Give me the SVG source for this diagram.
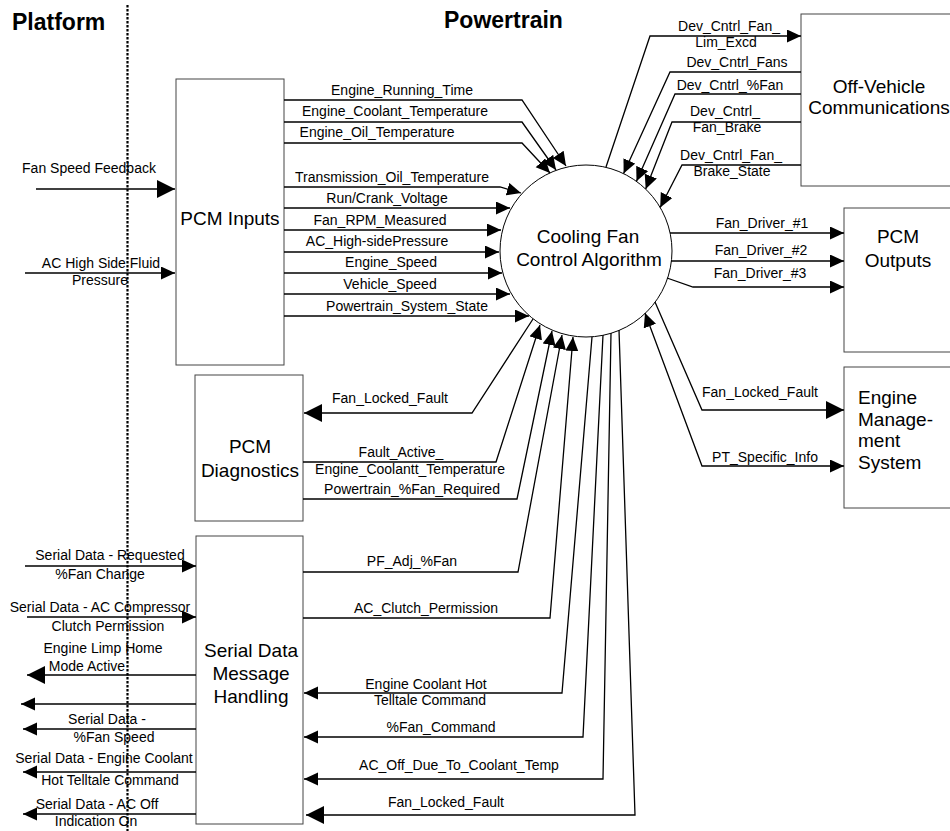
<svg xmlns="http://www.w3.org/2000/svg" width="950" height="831" viewBox="0 0 950 831">
  <style>
    text { font-family: "Liberation Sans", Arial, sans-serif; fill: #000; }
    .hdr { font-size: 23px; font-weight: bold; }
    .ttl { font-size: 19px; text-anchor: middle; }
    .ttlL { font-size: 19px; }
    .lbl { font-size: 14px; text-anchor: middle; }
    .box { fill: #fff; stroke: #444; stroke-width: 1; }
    .ln { fill: none; stroke: #000; stroke-width: 1.3; }
    .a { marker-end: url(#ah); }
    .aL { marker-end: url(#ahL); }
  </style>
  <defs>
    <marker id="ah" markerUnits="userSpaceOnUse" markerWidth="15" markerHeight="14" refX="14" refY="6.5" orient="auto-start-reverse">
      <path d="M0,0 L14,6.5 L0,13 z" fill="#000"/>
    </marker>
    <marker id="ahL" markerUnits="userSpaceOnUse" markerWidth="19" markerHeight="19" refX="18" refY="9" orient="auto-start-reverse">
      <path d="M0,0 L18,9 L0,18 z" fill="#000"/>
    </marker>
  </defs>

  <rect width="950" height="831" fill="#fff"/>

  <!-- domain headers and boundary -->
  <text class="hdr" x="12" y="30">Platform</text>
  <text class="hdr" x="444" y="28">Powertrain</text>
  <line x1="127.5" y1="5" x2="127.5" y2="831" stroke="#000" stroke-width="2.2" stroke-dasharray="2.5,1.5"/>

  <!-- nodes -->
  <g id="pcm-inputs">
    <rect class="box" x="176" y="79" width="108" height="286"/>
    <text class="ttl" x="230" y="225">PCM Inputs</text>
  </g>
  <g id="pcm-diagnostics">
    <rect class="box" x="195" y="375" width="108" height="146"/>
    <text class="ttl" x="250" y="453">PCM</text>
    <text class="ttl" x="250" y="477">Diagnostics</text>
  </g>
  <g id="serial-data">
    <rect class="box" x="196" y="536" width="107" height="288"/>
    <text class="ttl" x="251" y="657">Serial Data</text>
    <text class="ttl" x="251" y="680">Message</text>
    <text class="ttl" x="251" y="703">Handling</text>
  </g>
  <g id="cooling-fan-algorithm">
    <circle cx="586" cy="251" r="86" fill="#fff" stroke="#000" stroke-width="1"/>
    <text class="ttl" x="588" y="243">Cooling Fan</text>
    <text class="ttl" x="589" y="266">Control Algorithm</text>
  </g>
  <g id="off-vehicle">
    <rect class="box" x="801" y="14" width="170" height="172"/>
    <text class="ttl" x="879" y="93">Off-Vehicle</text>
    <text class="ttl" x="879" y="114">Communications</text>
  </g>
  <g id="pcm-outputs">
    <rect class="box" x="844" y="208" width="127" height="144"/>
    <text class="ttl" x="898" y="243">PCM</text>
    <text class="ttl" x="898" y="267">Outputs</text>
  </g>
  <g id="engine-management">
    <rect class="box" x="844" y="367" width="127" height="141"/>
    <text class="ttlL" x="858" y="404">Engine</text>
    <text class="ttlL" x="858" y="426">Manage-</text>
    <text class="ttlL" x="858" y="447">ment</text>
    <text class="ttlL" x="858" y="469">System</text>
  </g>

  <!-- connectors -->
  <g id="connectors">
    <!-- platform inputs to PCM Inputs -->
    <polyline class="ln aL" points="36,189 175,189"/>
    <polyline class="ln a" points="25,273 175,273"/>

    <!-- PCM Inputs to algorithm -->
    <polyline class="ln a" points="284,100 522,100 566,166"/>
    <polyline class="ln a" points="284,122 522,122 556,170"/>
    <polyline class="ln a" points="284,143 522,143 550,173"/>
    <polyline class="ln a" points="284,187 500,187 521,193"/>
    <polyline class="ln a" points="284,208 510,208"/>
    <polyline class="ln a" points="284,230 501,230"/>
    <polyline class="ln a" points="284,252 499,252"/>
    <polyline class="ln a" points="284,273 502,273"/>
    <polyline class="ln a" points="284,294 510,294"/>
    <polyline class="ln a" points="284,316 529,316"/>

    <!-- diagnostics -->
    <polyline class="ln aL" points="533,319 472,413 304,413"/>
    <polyline class="ln a" points="303,462 496,462 540,325"/>
    <polyline class="ln a" points="303,499 517,499 552,331"/>

    <!-- serial data message handling, to and from algorithm -->
    <polyline class="ln a" points="303,572 518,572 562,335"/>
    <polyline class="ln a" points="303,618 550,618 573,337"/>
    <polyline class="ln a" points="592,337 562,693 304,693"/>
    <polyline class="ln a" points="603,335 583,737 304,737"/>
    <polyline class="ln a" points="611,333 603,779 304,779"/>
    <polyline class="ln aL" points="619,330 635,815 306,815"/>

    <!-- platform serial bus -->
    <polyline class="ln a" points="25,566 196,566"/>
    <polyline class="ln a" points="27,617 196,617"/>
    <polyline class="ln aL" points="196,675 27,675"/>
    <polyline class="ln a" points="196,704 21,704"/>
    <polyline class="ln a" points="196,729 23,729"/>
    <polyline class="ln a" points="196,772 23,772"/>
    <polyline class="ln a" points="196,814 23,814"/>

    <!-- off-vehicle communications -->
    <polyline class="ln a" points="606,167 650,36 801,36"/>
    <polyline class="ln a" points="801,72 670,72 623.6,173.6"/>
    <polyline class="ln a" points="801,94 675,94 636.5,181.3"/>
    <polyline class="ln a" points="801,122 672,122 645.7,189.1"/>
    <polyline class="ln a" points="801,165 682,165 660.2,207.5"/>

    <!-- PCM outputs -->
    <polyline class="ln a" points="670,233 844,233"/>
    <polyline class="ln a" points="671,261 844,261"/>
    <polyline class="ln a" points="667,278 693,287 844,287"/>

    <!-- engine management system -->
    <polyline class="ln aL" points="655,302 702,410 844,410"/>
    <polyline class="ln a" style="marker-start:url(#ah)" points="645,313 702,466 844,466"/>

    <!-- labels -->
    <text class="lbl" x="89" y="173">Fan Speed Feedback</text>
    <text class="lbl" x="101" y="268">AC High Side Fluid</text>
    <text class="lbl" x="100" y="285">Pressure</text>

    <text class="lbl" x="402" y="95">Engine_Running_Time</text>
    <text class="lbl" x="395" y="116">Engine_Coolant_Temperature</text>
    <text class="lbl" x="377" y="137">Engine_Oil_Temperature</text>
    <text class="lbl" x="392" y="182">Transmission_Oil_Temperature</text>
    <text class="lbl" x="387" y="203">Run/Crank_Voltage</text>
    <text class="lbl" x="380" y="225">Fan_RPM_Measured</text>
    <text class="lbl" x="377" y="246">AC_High-sidePressure</text>
    <text class="lbl" x="391" y="267">Engine_Speed</text>
    <text class="lbl" x="390" y="289">Vehicle_Speed</text>
    <text class="lbl" x="407" y="311">Powertrain_System_State</text>

    <text class="lbl" x="390" y="403">Fan_Locked_Fault</text>
    <text class="lbl" x="401" y="457">Fault_Active_</text>
    <text class="lbl" x="410" y="474">Engine_Coolantt_Temperature</text>
    <text class="lbl" x="412" y="494">Powertrain_%Fan_Required</text>

    <text class="lbl" x="412" y="566">PF_Adj_%Fan</text>
    <text class="lbl" x="426" y="613">AC_Clutch_Permission</text>
    <text class="lbl" x="426" y="689">Engine Coolant Hot</text>
    <text class="lbl" x="430" y="705">Telltale Command</text>
    <text class="lbl" x="441" y="732">%Fan_Command</text>
    <text class="lbl" x="459" y="770">AC_Off_Due_To_Coolant_Temp</text>
    <text class="lbl" x="446" y="807">Fan_Locked_Fault</text>

    <text class="lbl" x="110" y="560">Serial Data - Requested</text>
    <text class="lbl" x="100" y="579">%Fan Change</text>
    <text class="lbl" x="100" y="612">Serial Data - AC Compressor</text>
    <text class="lbl" x="108" y="631">Clutch Permission</text>
    <text class="lbl" x="103" y="653">Engine Limp Home</text>
    <text class="lbl" x="87" y="671">Mode Active</text>
    <text class="lbl" x="107" y="724">Serial Data -</text>
    <text class="lbl" x="114" y="742">%Fan Speed</text>
    <text class="lbl" x="104" y="763">Serial Data - Engine Coolant</text>
    <text class="lbl" x="110" y="785">Hot Telltale Command</text>
    <text class="lbl" x="97" y="809">Serial Data - AC Off</text>
    <text class="lbl" x="96" y="826">Indication On</text>

    <text class="lbl" x="729" y="31">Dev_Cntrl_Fan_</text>
    <text class="lbl" x="726" y="47">Lim_Excd</text>
    <text class="lbl" x="737" y="67">Dev_Cntrl_Fans</text>
    <text class="lbl" x="730" y="90">Dev_Cntrl_%Fan</text>
    <text class="lbl" x="725" y="116">Dev_Cntrl_</text>
    <text class="lbl" x="727" y="132">Fan_Brake</text>
    <text class="lbl" x="731" y="160">Dev_Cntrl_Fan_</text>
    <text class="lbl" x="732" y="176">Brake_State</text>

    <text class="lbl" x="762" y="228">Fan_Driver_#1</text>
    <text class="lbl" x="761" y="255">Fan_Driver_#2</text>
    <text class="lbl" x="760" y="278">Fan_Driver_#3</text>

    <text class="lbl" x="760" y="397">Fan_Locked_Fault</text>
    <text class="lbl" x="765" y="462">PT_Specific_Info</text>
  </g>
</svg>
